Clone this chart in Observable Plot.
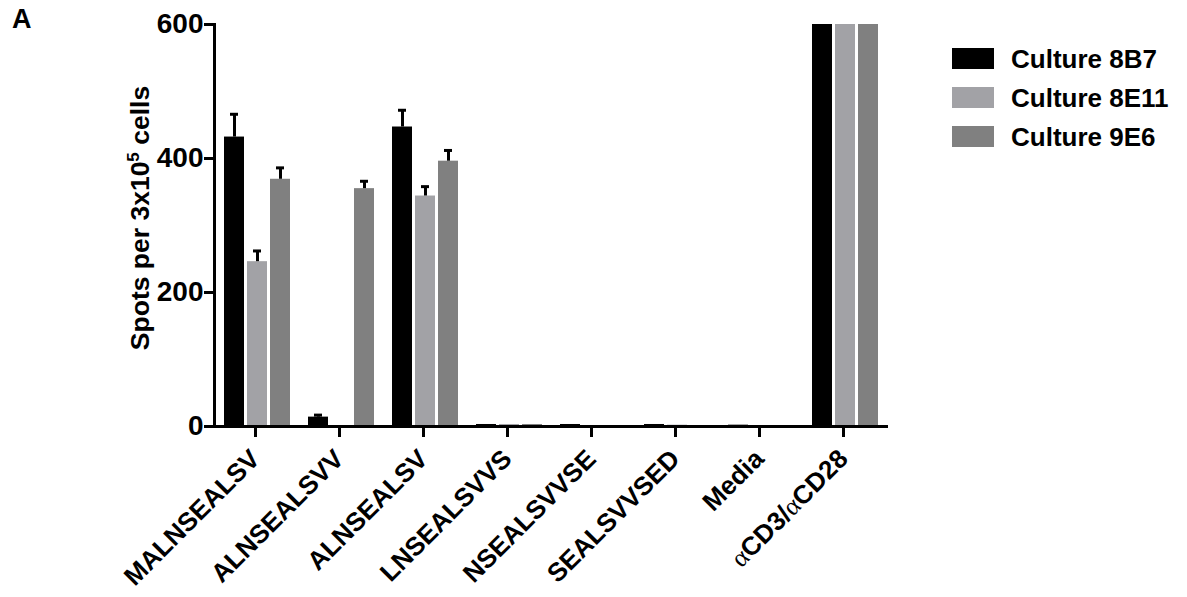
<!DOCTYPE html>
<html>
<head>
<meta charset="utf-8">
<script src="https://cdn.jsdelivr.net/npm/d3@7"></script>
<script src="https://cdn.jsdelivr.net/npm/@observablehq/plot@0.6"></script>
<style>
  body { margin: 0; background: #fff; }
  #wrap { position: relative; width: 1187px; height: 597px; font-family: "Liberation Sans", Arial, sans-serif; font-weight: bold; }
  #wrap svg { position: absolute; left: 0; top: 0; }
  .ov { position: absolute; color: #000; white-space: nowrap; line-height: 1; }
  .sw { position: absolute; width: 42px; height: 21px; }
</style>
</head>
<body>
<div id="wrap"></div>
<script>
// ---- data ----
const categories = ["MALNSEALSV", "ALNSEALSVV", "ALNSEALSV", "LNSEALSVVS", "NSEALSVVSE", "SEALSVVSED", "Media", "αCD3/αCD28"];
const series = ["Culture 8B7", "Culture 8E11", "Culture 9E6"];
const colors = ["#000000", "#a2a2a6", "#808080"];
const values8B7  = [432, 14, 447, 3, 3, 3, 2, 600];
const values8E11 = [246, 1, 344, 3, 1, 2, 0, 600];
const values9E6  = [369, 355, 396, 3, 1, 1, 1, 600];
const sem8B7  = [34, 3, 25, 0, 0, 0, 0, 0];
const sem8E11 = [16, 0, 14, 0, 0, 0, 0, 0];
const sem9E6  = [17, 11, 16, 0, 0, 0, 0, 0];
const yTicks = [0, 200, 400, 600];
const yLabel = "Spots per 3x10";

const valueSets = [values8B7, values8E11, values9E6];
const semSets = [sem8B7, sem8E11, sem9E6];
const data = categories.flatMap((c, i) => series.map((s, j) => ({
  category: c, series: s, value: valueSets[j][i], sem: semSets[j][i]
})));

const marks = [];
series.forEach((s, j) => {
  const dx = (j - 1) * 23;
  const rows = data.filter(d => d.series === s);
  const err = rows.filter(d => d.sem > 0);
  marks.push(Plot.barY(rows, {x: "category", y: "value", fill: "series", dx}));
  marks.push(Plot.ruleX(err, {x: "category", y1: "value", y2: d => d.value + d.sem, stroke: "#000", strokeWidth: 3, dx}));
  marks.push(Plot.tickY(err, {x: "category", y: d => d.value + d.sem, stroke: "#000", strokeWidth: 3, insetLeft: 6, insetRight: 6, dx}));
});

const chart = Plot.plot({
  width: 1187,
  height: 597,
  marginLeft: 214,
  marginRight: 299,
  marginTop: 24,
  marginBottom: 171,
  style: {fontFamily: "Liberation Sans, Arial, sans-serif", fontWeight: "bold", background: "#fff"},
  x: {domain: categories, paddingInner: 0.763, paddingOuter: 0.379, axis: null},
  y: {domain: [0, 600], axis: null},
  color: {domain: series, range: colors},
  marks: [
    ...marks,
    Plot.ruleY([0], {strokeWidth: 3, insetLeft: -8}),
    Plot.frame({anchor: "left", strokeWidth: 3}),
    Plot.axisY({ticks: yTicks, tickSize: 10, strokeWidth: 3, fontSize: 28, tickPadding: 1, label: null, tickFormat: d => String(d)}),
    Plot.axisX({tickSize: 11, strokeWidth: 3, fontSize: 26, tickRotate: -45, tickPadding: 17, dx: -2, label: null})
  ]
});

const wrap = document.getElementById("wrap");
wrap.appendChild(chart);

// render the alpha in the last label in a serif face, like the original
chart.querySelectorAll("text").forEach(t => {
  if (t.textContent.includes("α")) {
    const parts = t.textContent.split(/(α)/).filter(p => p.length);
    t.textContent = "";
    parts.forEach(p => {
      const ts = document.createElementNS("http://www.w3.org/2000/svg", "tspan");
      ts.textContent = p;
      if (p === "α") { ts.setAttribute("font-family", "Liberation Serif, serif"); ts.setAttribute("font-weight", "normal"); }
      t.appendChild(ts);
    });
  }
});

// panel letter
const A = document.createElement("div");
A.className = "ov"; A.textContent = "A";
A.style.left = "12px"; A.style.top = "6px"; A.style.fontSize = "27px";
wrap.appendChild(A);

// y-axis label
const yl = document.createElement("div");
yl.className = "ov";
yl.innerHTML = yLabel + "<sup style='font-size:17px;line-height:0'>5</sup> cells";
yl.style.fontSize = "26.5px";
yl.style.left = "140px"; yl.style.top = "218px";
yl.style.transform = "translate(-50%, -50%) rotate(-90deg)";
wrap.appendChild(yl);

// legend
series.forEach((s, j) => {
  const sw = document.createElement("div");
  sw.className = "sw";
  sw.style.background = colors[j];
  sw.style.left = "952px"; sw.style.top = (48 + j * 39) + "px";
  wrap.appendChild(sw);
  const lb = document.createElement("div");
  lb.className = "ov"; lb.textContent = s;
  lb.style.fontSize = "26px";
  lb.style.left = "1011px"; lb.style.top = (46 + j * 39) + "px";
  wrap.appendChild(lb);
});
</script>
</body>
</html>
